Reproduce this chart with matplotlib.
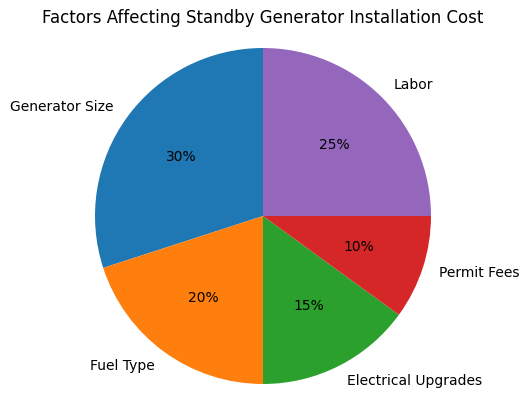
import matplotlib
matplotlib.use("Agg")
import matplotlib.pyplot as plt

categories = ["Generator Size", "Fuel Type", "Electrical Upgrades", "Permit Fees", "Labor"]
values = [30, 20, 15, 10, 25]

W, H = 529, 411
fig = plt.figure(figsize=(W / 100, H / 100), dpi=100)
cx, cy, r = 263, 216, 168
ax = fig.add_axes([(cx - r) / W, (H - cy - r) / H, 2 * r / W, 2 * r / H])
ax.pie(values, labels=categories, autopct='%1.0f%%', startangle=90)
ax.set_xlim(-1, 1)
ax.set_ylim(-1, 1)
ax.set_aspect('equal')
ax.axis('off')
fig.text(cx / W, 1 - 18 / H, "Factors Affecting Standby Generator Installation Cost",
         ha='center', va='center', fontsize=12)
fig.savefig("out.png", dpi=100)
